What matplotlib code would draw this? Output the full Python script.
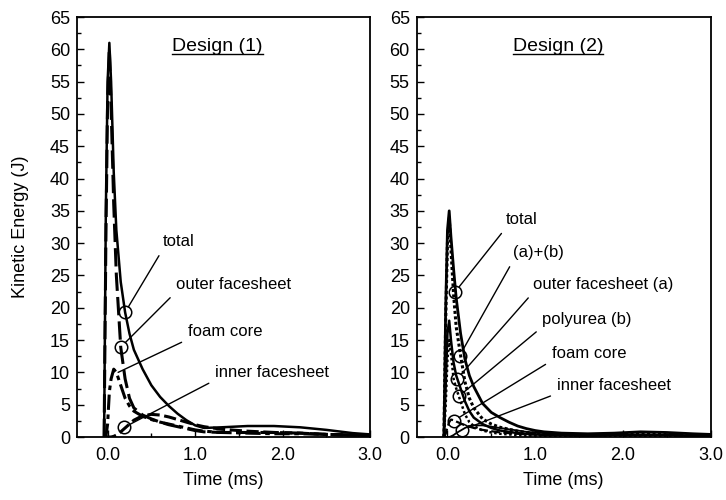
import matplotlib
matplotlib.use("Agg")
import matplotlib.pyplot as plt
from matplotlib.ticker import MultipleLocator
from matplotlib.lines import Line2D

plt.rcParams['font.family'] = ['Liberation Sans', 'DejaVu Sans']

# time axis (ms)
time1 = [-0.04, -0.02, 0.0, 0.02, 0.04, 0.07, 0.1, 0.15, 0.2, 0.25, 0.3, 0.4, 0.5,
         0.6, 0.7, 0.8, 0.9, 1.0, 1.1, 1.3, 1.6, 1.9, 2.2, 2.5, 2.8, 3.0]
time2 = [-0.04, -0.02, 0.0, 0.02, 0.04, 0.07, 0.1, 0.15, 0.2, 0.25, 0.3, 0.4, 0.5,
         0.6, 0.7, 0.8, 0.9, 1.0, 1.1, 1.3, 1.6, 1.9, 2.2, 2.5, 2.8, 3.0]

# Design (1) kinetic energy (J)
total1 = [0, 35, 55, 61, 55, 41, 32, 24, 19.3, 16, 13.5, 10.5, 8, 6.2, 4.8, 3.6,
          2.6, 1.8, 1.4, 1.5, 1.7, 1.7, 1.5, 1.1, 0.6, 0.4]
outer1 = [0, 30, 52, 60, 51, 36, 25, 13.9, 9, 6, 4.5, 3.4, 2.8, 2.3, 1.9, 1.6,
          1.3, 1.0, 0.8, 0.7, 0.7, 0.7, 0.6, 0.4, 0.3, 0.2]
foam1 = [0, 0, 2, 7, 9, 10.5, 10, 8, 6, 4.8, 4, 3.2, 2.7, 2.3, 2.0, 1.7,
         1.4, 1.1, 0.9, 0.7, 0.6, 0.5, 0.5, 0.4, 0.3, 0.2]
inner1 = [0, 0, 0, 0, 0, 0.1, 0.3, 0.8, 1.4, 2.0, 2.6, 3.3, 3.5, 3.4, 3.1, 2.7,
          2.3, 1.9, 1.6, 1.2, 0.9, 0.7, 0.6, 0.4, 0.3, 0.2]

# Design (2) kinetic energy (J)
total2 = [0, 20, 32, 35, 31, 26, 21.5, 16, 12, 9.5, 7.8, 5.2, 3.8, 3.0, 2.3, 1.7,
          1.3, 1.0, 0.8, 0.6, 0.5, 0.6, 0.8, 0.7, 0.5, 0.4]
ab2 = [0, 18, 30, 34, 29, 22, 17, 12.6, 8.5, 6, 4.5, 2.8, 2.0, 1.5, 1.2, 0.9,
       0.7, 0.6, 0.5, 0.4, 0.3, 0.4, 0.5, 0.4, 0.3, 0.2]
outer2 = [0, 8, 16, 18, 15, 11.5, 9.5, 7.5, 5.5, 4.0, 3.0, 2.0, 1.4, 1.0, 0.8, 0.6,
          0.5, 0.4, 0.3, 0.3, 0.2, 0.3, 0.3, 0.3, 0.2, 0.1]
poly2 = [0, 5, 12, 15, 13, 9, 7.5, 5.5, 3.5, 2.3, 1.7, 1.0, 0.7, 0.5, 0.4, 0.3,
         0.2, 0.2, 0.2, 0.1, 0.1, 0.1, 0.2, 0.1, 0.1, 0.1]
foam2 = [0, 0.5, 1.5, 2.3, 2.7, 2.6, 2.4, 2.1, 1.8, 1.6, 1.4, 1.1, 0.9, 0.7, 0.6, 0.5,
         0.4, 0.4, 0.3, 0.3, 0.2, 0.3, 0.3, 0.3, 0.2, 0.1]
inner2 = [0, 0, 0, 0, 0.1, 0.3, 0.6, 1.0, 1.4, 1.7, 1.8, 1.8, 1.6, 1.4, 1.2, 1.0,
          0.8, 0.7, 0.6, 0.5, 0.4, 0.4, 0.4, 0.3, 0.2, 0.1]

xticks = [0, 1, 2, 3]
xticklabels = ['0.0', '1.0', '2.0', '3.0']

# labels: (text, point on curve, text position, circle?)
labels1 = [
    ('total', (0.20, 19.3), (0.63, 30.2), True),
    ('outer facesheet', (0.15, 13.9), (0.78, 23.6), True),
    ('foam core', (0.12, 10.0), (0.92, 16.3), False),
    ('inner facesheet', (0.19, 1.5), (1.23, 10.0), True),
]
labels2 = [
    ('total', (0.09, 22.5), (0.67, 33.6), True),
    ('(a)+(b)', (0.14, 12.6), (0.75, 28.5), True),
    ('outer facesheet (a)', (0.11, 9.0), (0.98, 23.6), True),
    ('polyurea (b)', (0.13, 6.3), (1.08, 18.2), True),
    ('foam core', (0.07, 2.5), (1.19, 13.0), True),
    ('inner facesheet', (0.17, 1.1), (1.25, 7.9), True),
]

fig = plt.figure(figsize=(7.26, 5.0), dpi=100)
ax1 = fig.add_axes([0.106, 0.126, 0.404, 0.840])
ax2 = fig.add_axes([0.574, 0.126, 0.405, 0.840])

# Design (1) curves
ax1.plot(time1, inner1, color='black', lw=2.2, ls=(0, (4, 1.5)))
ax1.plot(time1, foam1, color='black', lw=2.2, ls=(0, (5, 1.5, 1.5, 1.5)))
ax1.plot(time1, outer1, color='black', lw=2.2, ls=(0, (6, 2)))
ax1.plot(time1, total1, color='black', lw=1.8)

# Design (2) curves
ax2.plot(time2, inner2, color='black', lw=1.3)
ax2.plot(time2, foam2, color='black', lw=1.6, ls=(0, (4, 1.5)))
ax2.plot(time2, poly2, color='black', lw=1.8, ls=(0, (1, 1)))
ax2.plot(time2, outer2, color='black', lw=1.8)
ax2.plot(time2, ab2, color='black', lw=2.2, ls=(0, (1, 0.8)))
ax2.plot(time2, total2, color='black', lw=2.0)

for ax, labels in ((ax1, labels1), (ax2, labels2)):
    for text, pt, tpos, circ in labels:
        if circ:
            ax.plot(pt[0], pt[1], marker='o', ms=9, mfc='none', mec='black', mew=1.1)
        ax.annotate(text, xy=pt, xytext=tpos, fontsize=12, ha='left', va='center',
                    arrowprops=dict(arrowstyle='-', color='black', lw=1.0,
                                    relpos=(0, 0), shrinkA=3,
                                    shrinkB=4.5 if circ else 0))

titles = []
for ax, title in ((ax1, 'Design (1)'), (ax2, 'Design (2)')):
    ax.set_xlim(-0.35, 3.0)
    ax.set_ylim(0, 65)
    ax.set_xticks(xticks)
    ax.set_xticklabels(xticklabels)
    ax.xaxis.set_minor_locator(MultipleLocator(0.5))
    ax.yaxis.set_major_locator(MultipleLocator(5))
    ax.yaxis.set_minor_locator(MultipleLocator(2.5))
    ax.tick_params(which='both', direction='in', labelsize=13)
    ax.tick_params(which='major', length=5, width=1)
    ax.tick_params(which='minor', length=3, width=1)
    ax.tick_params(axis='x', pad=7)
    ax.tick_params(axis='y', pad=5)
    for s in ax.spines.values():
        s.set_linewidth(1.3)
    ax.set_xlabel('Time (ms)', fontsize=13, labelpad=6)
    titles.append((ax, ax.text(0.48, 0.93, title, transform=ax.transAxes,
                               fontsize=14, ha='center', va='center')))

ax1.set_ylabel('Kinetic Energy (J)', fontsize=13)
ax1.yaxis.set_label_coords(-0.165, 0.5)

# underline the panel titles
fig.canvas.draw()
renderer = fig.canvas.get_renderer()
for ax, t in titles:
    bb = t.get_window_extent(renderer).transformed(ax.transAxes.inverted())
    ax.add_line(Line2D([bb.x0, bb.x1], [bb.y0 + 0.002, bb.y0 + 0.002],
                       transform=ax.transAxes, color='black', lw=1.0))

fig.savefig('out.png', dpi=100)
